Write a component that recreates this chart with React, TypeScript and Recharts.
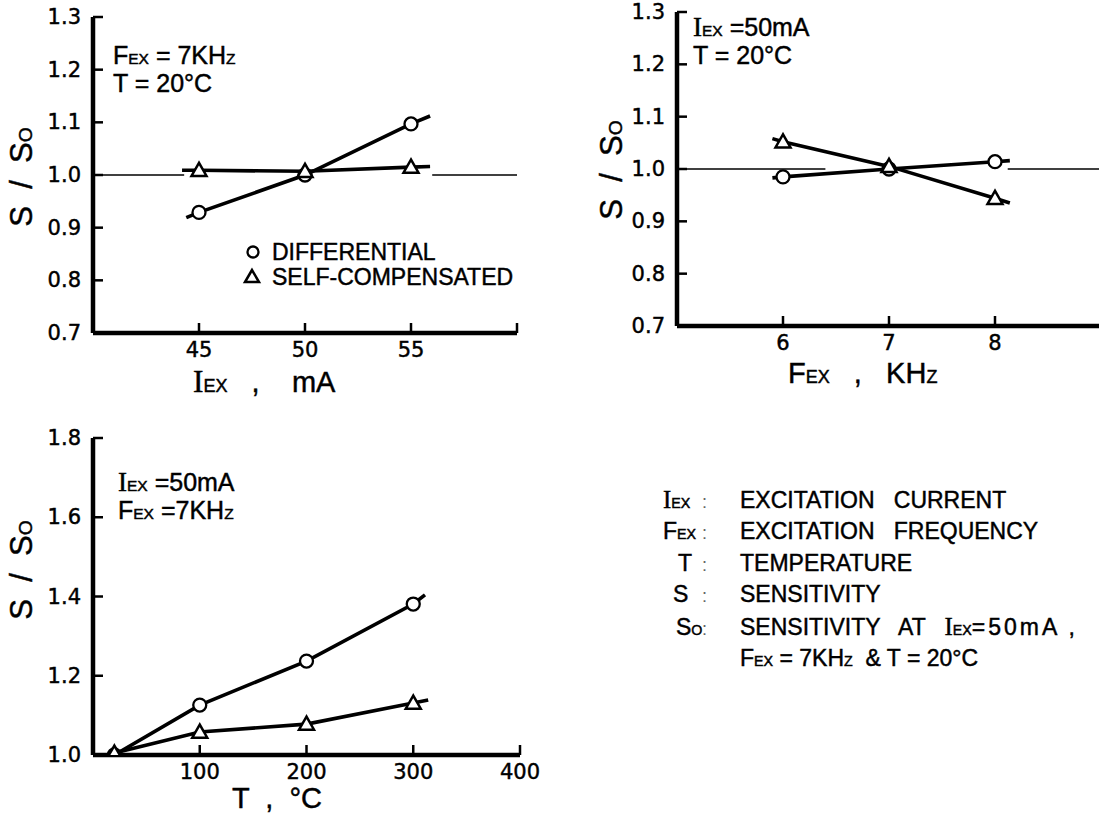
import React from 'react';
import { ComposedChart, Line, XAxis, YAxis, ReferenceLine } from 'recharts';

const FONT = "'Liberation Sans', Arial, sans-serif";
const TICK_FONT = "'DejaVu Sans', 'Liberation Sans', sans-serif";
const SERIF = "'Liberation Serif', 'Times New Roman', serif";
// the scanned figure prints heavy, so text gets a thin outline
const INK = { stroke: '#000', strokeWidth: 0.45, whiteSpace: 'pre' } as const;

// S/S0 against excitation current (F = 7 kHz, T = 20 C)
const currentMa = [45, 50, 55];
const currentDifferential = [0.929, 1.0, 1.097];
const currentSelfComp = [1.009, 1.007, 1.015];
// where the drawn lines start and stop
const currentDiffEnds = [[44.4, 0.919], [55.9, 1.112]];
const currentSelfEnds = [[44.2, 1.009], [55.9, 1.016]];
const currentBaseline = [[40, 44.3], [56, 60]];

// S/S0 against excitation frequency (I = 50 mA, T = 20 C)
const freqKhz = [6, 7, 8];
const freqDifferential = [0.985, 1.0, 1.014];
const freqSelfComp = [1.052, 1.005, 0.944];
const freqDiffEnds = [[5.9, 0.983], [8.14, 1.016]];
const freqSelfEnds = [[5.9, 1.058], [8.14, 0.935]];
const freqBaseline = [[5, 6.4], [8.12, 9]];

// S/S0 against temperature (I = 50 mA, F = 7 kHz)
const tempC = [20, 100, 200, 300];
const tempDifferential = [1.0, 1.126, 1.237, 1.381];
const tempSelfComp = [1.005, 1.058, 1.078, 1.131];
const tempDiffEnds = [null, [311, 1.404]];
const tempSelfEnds = [null, [314, 1.139]];

const ticks0713 = [0.7, 0.8, 0.9, 1.0, 1.1, 1.2, 1.3];
const ticksTemp = [1.0, 1.2, 1.4, 1.6, 1.8];

type Pt = { x: number; y: number; mark?: boolean };

const buildSeries = (xs: number[], ys: number[], ends: any[]): Pt[] => {
  const out: Pt[] = [];
  if (ends[0]) out.push({ x: ends[0][0], y: ends[0][1] });
  xs.forEach((x, i) => out.push({ x, y: ys[i], mark: true }));
  if (ends[1]) out.push({ x: ends[1][0], y: ends[1][1] });
  return out;
};

const Marker = (props: any) => {
  const { cx, cy, payload, index, kind } = props;
  if (!payload || !payload.mark || cx == null || cy == null) return <g key={`m-${index}`} />;
  if (kind === 'circle') {
    return <circle key={`m-${index}`} cx={cx} cy={cy} r={6.5} fill="#fff" stroke="#000" strokeWidth={2.3} />;
  }
  const s = 7.5;
  return (
    <polygon
      key={`m-${index}`}
      points={`${cx},${cy - s} ${cx - s},${cy + s * 0.75} ${cx + s},${cy + s * 0.75}`}
      fill="#fff"
      stroke="#000"
      strokeWidth={2.5}
    />
  );
};

// text pieces: [text, style] where style is '' | 'serif' | 'small' | 'wide'
type Piece = [string, string?];
const rich = (pieces: Piece[], size: number) =>
  pieces.map(([t, st], i) => {
    if (st === 'serif') return <tspan key={i} fontFamily={SERIF} fontSize={size * 1.08}>{t}</tspan>;
    if (st === 'small') return <tspan key={i} fontSize={size * 0.62}>{t}</tspan>;
    if (st === 'wide') return <tspan key={i} fontSize={size} letterSpacing={3}>{t}</tspan>;
    return <tspan key={i} fontSize={size}>{t}</tspan>;
  });

const YTitle = ({ cx, cy }: { cx: number; cy: number }) => (
  <text x={cx} y={cy} transform={`rotate(-90 ${cx} ${cy})`} textAnchor="middle" fontFamily={FONT} fill="#000" style={INK}>
    {rich([['S  /  S'], ['O', 'small']], 31)}
  </text>
);

// ticks point into the plot, labels sit outside
const YTick = (props: any) => {
  const { y, payload, axisX, fmt } = props;
  return (
    <g>
      <line x1={axisX} x2={axisX + 10} y1={y} y2={y} stroke="#000" strokeWidth={2.5} />
      <text x={axisX - 12} y={y} textAnchor="end" dominantBaseline="central" fontFamily={TICK_FONT} fontSize={21} fill="#000" style={INK}>
        {fmt(payload.value)}
      </text>
    </g>
  );
};

const XTick = (props: any) => {
  const { x, payload, axisY, hide } = props;
  return (
    <g>
      <line x1={x} x2={x} y1={axisY} y2={axisY - 10} stroke="#000" strokeWidth={2.5} />
      {!hide.includes(payload.value) && (
        <text x={x} y={axisY + 17} textAnchor="middle" dominantBaseline="central" fontFamily={TICK_FONT} fontSize={21} fill="#000" style={INK}>
          {payload.value}
        </text>
      )}
    </g>
  );
};

type PanelProps = {
  left: number; top: number; width: number; height: number;
  margin: { top: number; right: number; bottom: number; left: number };
  yWidth: number;
  xDomain: number[]; yDomain: number[];
  xTicks: number[]; yTicks: number[];
  hideX: number[];
  yFmt: (v: number) => string;
  diff: Pt[]; self: Pt[];
  baseline: number[][];
  yTitle: { cx: number; cy: number };
  xTitle: { x: number; y: number; pieces: Piece[] };
};

const Panel = (p: PanelProps) => {
  const axisX = p.margin.left + p.yWidth;
  const axisY = p.height - p.margin.bottom - 30;
  return (
    <div style={{ position: 'absolute', left: p.left, top: p.top }}>
      <ComposedChart width={p.width} height={p.height} margin={p.margin}>
        <XAxis
          type="number"
          dataKey="x"
          domain={p.xDomain}
          ticks={p.xTicks}
          allowDataOverflow
          height={30}
          axisLine={false}
          tickLine={false}
          tick={<XTick axisY={axisY} hide={p.hideX} />}
        />
        <YAxis
          type="number"
          dataKey="y"
          domain={p.yDomain}
          ticks={p.yTicks}
          allowDataOverflow
          width={p.yWidth}
          axisLine={false}
          tickLine={false}
          tick={<YTick axisX={axisX} fmt={p.yFmt} />}
        />
        {/* heavy frame lines of the plot */}
        <ReferenceLine x={p.xDomain[0]} stroke="#000" strokeWidth={4.5} />
        <ReferenceLine y={p.yDomain[0]} stroke="#000" strokeWidth={4.5} />
        {p.baseline.map((seg, i) => (
          <ReferenceLine
            key={`b-${i}`}
            segment={[{ x: seg[0], y: 1 }, { x: seg[1], y: 1 }]}
            stroke="#000"
            strokeWidth={1.5}
            ifOverflow="visible"
          />
        ))}
        <Line
          data={p.diff}
          dataKey="y"
          stroke="#000"
          strokeWidth={3.6}
          isAnimationActive={false}
          activeDot={false}
          dot={(d: any) => <Marker {...d} kind="circle" />}
        />
        <Line
          data={p.self}
          dataKey="y"
          stroke="#000"
          strokeWidth={3.6}
          isAnimationActive={false}
          activeDot={false}
          dot={(d: any) => <Marker {...d} kind="triangle" />}
        />
      </ComposedChart>
      <svg width={p.width} height={p.height} style={{ position: 'absolute', left: 0, top: 0, pointerEvents: 'none' }}>
        <YTitle cx={p.yTitle.cx} cy={p.yTitle.cy} />
        <text x={p.xTitle.x} y={p.xTitle.y} fontFamily={FONT} fill="#000" style={INK}>
          {rich(p.xTitle.pieces, 29)}
        </text>
      </svg>
    </div>
  );
};

const fmt1 = (v: number) => v.toFixed(1);

const Colon = ({ x, y }: { x: number; y: number }) => (
  <text x={x} y={y} fontFamily={FONT} fontSize={18} fill="#666">:</text>
);

export default function App() {
  const glossary: { sym: Piece[]; sx: number; text: Piece[] }[] = [
    { sym: [['I', 'serif'], ['EX', 'small']], sx: 663, text: [['EXCITATION   CURRENT']] },
    { sym: [['F'], ['EX', 'small']], sx: 663, text: [['EXCITATION   FREQUENCY']] },
    { sym: [['T']], sx: 678, text: [['TEMPERATURE']] },
    { sym: [['S']], sx: 673, text: [['SENSITIVITY']] },
    { sym: [['S'], ['O', 'small']], sx: 676, text: [['SENSITIVITY   AT   '], ['I', 'serif'], ['EX', 'small'], ['=50mA ,', 'wide']] },
    { sym: [], sx: 676, text: [['F'], ['EX', 'small'], [' = 7KH'], ['Z', 'small'], ['  & T = 20°C']] },
  ];
  const rowY = [508, 539, 571, 602, 635, 666];

  return (
    <div style={{ position: 'absolute', left: 0, top: 0, width: 1099, height: 823, overflow: 'hidden', background: '#fff' }}>
      <Panel
        left={0} top={0} width={540} height={400}
        margin={{ top: 17, right: 23, bottom: 37, left: 0 }}
        yWidth={93}
        xDomain={[40, 60]} yDomain={[0.7, 1.3]}
        xTicks={[45, 50, 55, 60]} yTicks={ticks0713} hideX={[60]}
        yFmt={fmt1}
        diff={buildSeries(currentMa, currentDifferential, currentDiffEnds)}
        self={buildSeries(currentMa, currentSelfComp, currentSelfEnds)}
        baseline={currentBaseline}
        yTitle={{ cx: 32, cy: 177 }}
        xTitle={{ x: 193, y: 392, pieces: [['I', 'serif'], ['EX', 'small'], ['   ,    mA']] }}
      />
      <Panel
        left={540} top={0} width={565} height={400}
        margin={{ top: 12, right: 4, bottom: 44, left: 0 }}
        yWidth={137}
        xDomain={[5, 9]} yDomain={[0.7, 1.3]}
        xTicks={[6, 7, 8, 9]} yTicks={ticks0713} hideX={[9]}
        yFmt={fmt1}
        diff={buildSeries(freqKhz, freqDifferential, freqDiffEnds)}
        self={buildSeries(freqKhz, freqSelfComp, freqSelfEnds)}
        baseline={freqBaseline}
        yTitle={{ cx: 82, cy: 170 }}
        xTitle={{ x: 248, y: 383, pieces: [['F'], ['EX', 'small'], ['   ,   KH'], ['Z', 'small']] }}
      />
      <Panel
        left={0} top={400} width={560} height={423}
        margin={{ top: 38, right: 40, bottom: 38, left: 0 }}
        yWidth={93}
        xDomain={[0, 400]} yDomain={[1.0, 1.8]}
        xTicks={[100, 200, 300, 400]} yTicks={ticksTemp} hideX={[]}
        yFmt={fmt1}
        diff={buildSeries(tempC, tempDifferential, tempDiffEnds)}
        self={buildSeries(tempC, tempSelfComp, tempSelfEnds)}
        baseline={[]}
        yTitle={{ cx: 32, cy: 170 }}
        xTitle={{ x: 232, y: 408, pieces: [['T  ,  °C']] }}
      />
      <svg width={1099} height={823} style={{ position: 'absolute', left: 0, top: 0, pointerEvents: 'none' }} fontFamily={FONT} fill="#000">
        {/* panel notes */}
        <text x={113} y={64} style={INK}>{rich([['F'], ['EX', 'small'], [' = 7KH'], ['Z', 'small']], 25)}</text>
        <text x={113} y={92} style={INK}>{rich([['T = 20°C']], 25)}</text>
        <text x={693} y={36} style={INK}>{rich([['I', 'serif'], ['EX', 'small'], [' =50mA']], 25)}</text>
        <text x={693} y={64} style={INK}>{rich([['T = 20°C']], 25)}</text>
        <text x={118} y={491} style={INK}>{rich([['I', 'serif'], ['EX', 'small'], [' =50mA']], 25)}</text>
        <text x={118} y={519} style={INK}>{rich([['F'], ['EX', 'small'], [' =7KH'], ['Z', 'small']], 25)}</text>

        {/* series key in the current panel */}
        <circle cx={253} cy={252} r={5.5} fill="#fff" stroke="#000" strokeWidth={2.3} />
        <text x={272} y={260} fontSize={23} style={INK}>DIFFERENTIAL</text>
        <polygon points="252,270 245,282 259,282" fill="#fff" stroke="#000" strokeWidth={2.5} />
        <text x={272} y={285} fontSize={23} style={INK}>SELF-COMPENSATED</text>

        {/* symbol glossary */}
        {glossary.map((g, i) => (
          <g key={i}>
            {g.sym.length > 0 && <text x={g.sx} y={rowY[i]} style={INK}>{rich(g.sym, 23)}</text>}
            {g.sym.length > 0 && <Colon x={702} y={rowY[i]} />}
            <text x={740} y={rowY[i]} style={INK}>{rich(g.text, 23)}</text>
          </g>
        ))}
      </svg>
    </div>
  );
}
